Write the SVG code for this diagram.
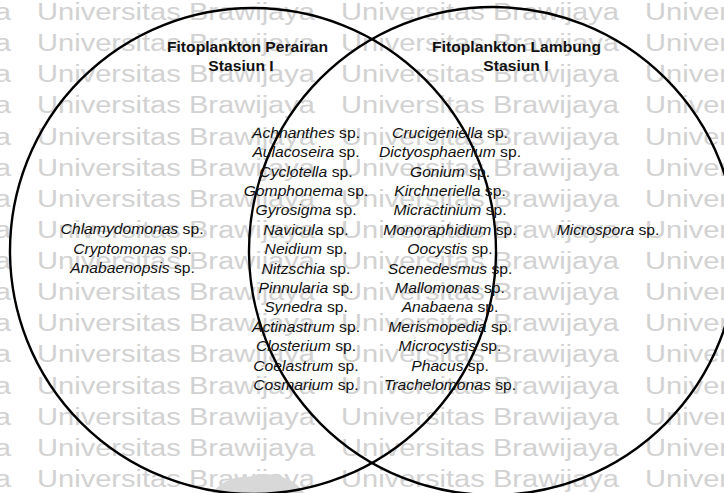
<svg xmlns="http://www.w3.org/2000/svg" xmlns:xlink="http://www.w3.org/1999/xlink" width="724" height="493" viewBox="0 0 724 493">
<style>
  .wm { font-family: "Liberation Sans", Arial, sans-serif; font-size: 23px; fill: #d2d2d2; }
  .t { font-family: "Liberation Sans", Arial, sans-serif; font-size: 14px; fill: #111; text-anchor: middle; }
  .h { font-family: "Liberation Sans", Arial, sans-serif; font-size: 14px; font-weight: bold; fill: #111; text-anchor: middle; }
  .i { font-style: italic; }
  .ring { fill: none; stroke: #000; stroke-width: 2.4; }
</style>
<defs>
  <g id="wmrow">
    <text class="wm" x="-267" textLength="278" lengthAdjust="spacingAndGlyphs">Universitas Brawijaya</text>
    <text class="wm" x="37" textLength="278" lengthAdjust="spacingAndGlyphs">Universitas Brawijaya</text>
    <text class="wm" x="341" textLength="278" lengthAdjust="spacingAndGlyphs">Universitas Brawijaya</text>
    <text class="wm" x="645" textLength="278" lengthAdjust="spacingAndGlyphs">Universitas Brawijaya</text>
  </g>
</defs>
<rect width="724" height="493" fill="#fff"/>
<g id="watermark">
  <use xlink:href="#wmrow" y="20"/>
  <use xlink:href="#wmrow" y="51.1"/>
  <use xlink:href="#wmrow" y="82.3"/>
  <use xlink:href="#wmrow" y="113.4"/>
  <use xlink:href="#wmrow" y="144.5"/>
  <use xlink:href="#wmrow" y="175.7"/>
  <use xlink:href="#wmrow" y="206.8"/>
  <use xlink:href="#wmrow" y="237.9"/>
  <use xlink:href="#wmrow" y="269"/>
  <use xlink:href="#wmrow" y="300.2"/>
  <use xlink:href="#wmrow" y="331.3"/>
  <use xlink:href="#wmrow" y="362.4"/>
  <use xlink:href="#wmrow" y="393.6"/>
  <use xlink:href="#wmrow" y="424.7"/>
  <use xlink:href="#wmrow" y="455.8"/>
  <use xlink:href="#wmrow" y="487"/>
  <path d="M212,493 C218,486 224,481 232,479 C240,476 246,478 252,476 C264,472 278,474 290,480 C298,485 302,489 304,493 Z" fill="#d8d8d8"/>
</g>
<g id="connectors"></g>
<g id="set-perairan">
  <circle class="ring" cx="253" cy="251" r="243"/>
</g>
<g id="set-lambung">
  <circle class="ring" cx="493" cy="251" r="244"/>
</g>
<g transform="scale(1.12 1)">
  <g id="label-perairan">
    <text class="h" x="221" y="52">Fitoplankton Perairan</text>
    <text class="h" x="215.2" y="71">Stasiun I</text>
  </g>
  <g id="label-lambung">
    <text class="h" x="461.2" y="52">Fitoplankton Lambung</text>
    <text class="h" x="460.7" y="71">Stasiun I</text>
  </g>
  <g id="only-perairan">
    <text class="t" x="117.9" y="234.5"><tspan class="i">Chlamydomonas</tspan> sp.</text>
    <text class="t" x="118.3" y="253.9"><tspan class="i">Cryptomonas</tspan> sp.</text>
    <text class="t" x="118.3" y="273.3"><tspan class="i">Anabaenopsis</tspan> sp.</text>
  </g>
  <g id="both-left">
    <text class="t" x="273.2" y="138"><tspan class="i">Achnanthes</tspan> sp.</text>
    <text class="t" x="273.2" y="157.4"><tspan class="i">Aulacoseira</tspan> sp.</text>
    <text class="t" x="273.2" y="176.8"><tspan class="i">Cyclotella</tspan> sp.</text>
    <text class="t" x="273.2" y="196.1"><tspan class="i">Gomphonema</tspan> sp.</text>
    <text class="t" x="273.2" y="215.5"><tspan class="i">Gyrosigma</tspan> sp.</text>
    <text class="t" x="273.2" y="234.9"><tspan class="i">Navicula</tspan> sp.</text>
    <text class="t" x="273.2" y="254.3"><tspan class="i">Neidium</tspan> sp.</text>
    <text class="t" x="273.2" y="273.7"><tspan class="i">Nitzschia</tspan> sp.</text>
    <text class="t" x="273.2" y="293"><tspan class="i">Pinnularia</tspan> sp.</text>
    <text class="t" x="273.2" y="312.4"><tspan class="i">Synedra</tspan> sp.</text>
    <text class="t" x="273.2" y="331.8"><tspan class="i">Actinastrum</tspan> sp.</text>
    <text class="t" x="273.2" y="351.2"><tspan class="i">Closterium</tspan> sp.</text>
    <text class="t" x="273.2" y="370.6"><tspan class="i">Coelastrum</tspan> sp.</text>
    <text class="t" x="273.2" y="390"><tspan class="i">Cosmarium</tspan> sp.</text>
  </g>
  <g id="both-right">
    <text class="t" x="401.8" y="138"><tspan class="i">Crucigeniella</tspan> sp.</text>
    <text class="t" x="401.8" y="157.4"><tspan class="i">Dictyosphaerium</tspan> sp.</text>
    <text class="t" x="401.8" y="176.8"><tspan class="i">Gonium</tspan> sp.</text>
    <text class="t" x="401.8" y="196.1"><tspan class="i">Kirchneriella</tspan> sp.</text>
    <text class="t" x="401.8" y="215.5"><tspan class="i">Micractinium</tspan> sp.</text>
    <text class="t" x="401.8" y="234.9"><tspan class="i">Monoraphidium</tspan> sp.</text>
    <text class="t" x="401.8" y="254.3"><tspan class="i">Oocystis</tspan> sp.</text>
    <text class="t" x="401.8" y="273.7"><tspan class="i">Scenedesmus</tspan> sp.</text>
    <text class="t" x="401.8" y="293"><tspan class="i">Mallomonas</tspan> sp.</text>
    <text class="t" x="401.8" y="312.4"><tspan class="i">Anabaena</tspan> sp.</text>
    <text class="t" x="401.8" y="331.8"><tspan class="i">Merismopedia</tspan> sp.</text>
    <text class="t" x="401.8" y="351.2"><tspan class="i">Microcystis</tspan> sp.</text>
    <text class="t" x="401.8" y="370.6"><tspan class="i">Phacus</tspan> sp.</text>
    <text class="t" x="401.8" y="390"><tspan class="i">Trachelomonas</tspan> sp.</text>
  </g>
  <g id="only-lambung">
    <text class="t" x="542.9" y="234.9"><tspan class="i">Microspora</tspan> sp.</text>
  </g>
</g>
</svg>
